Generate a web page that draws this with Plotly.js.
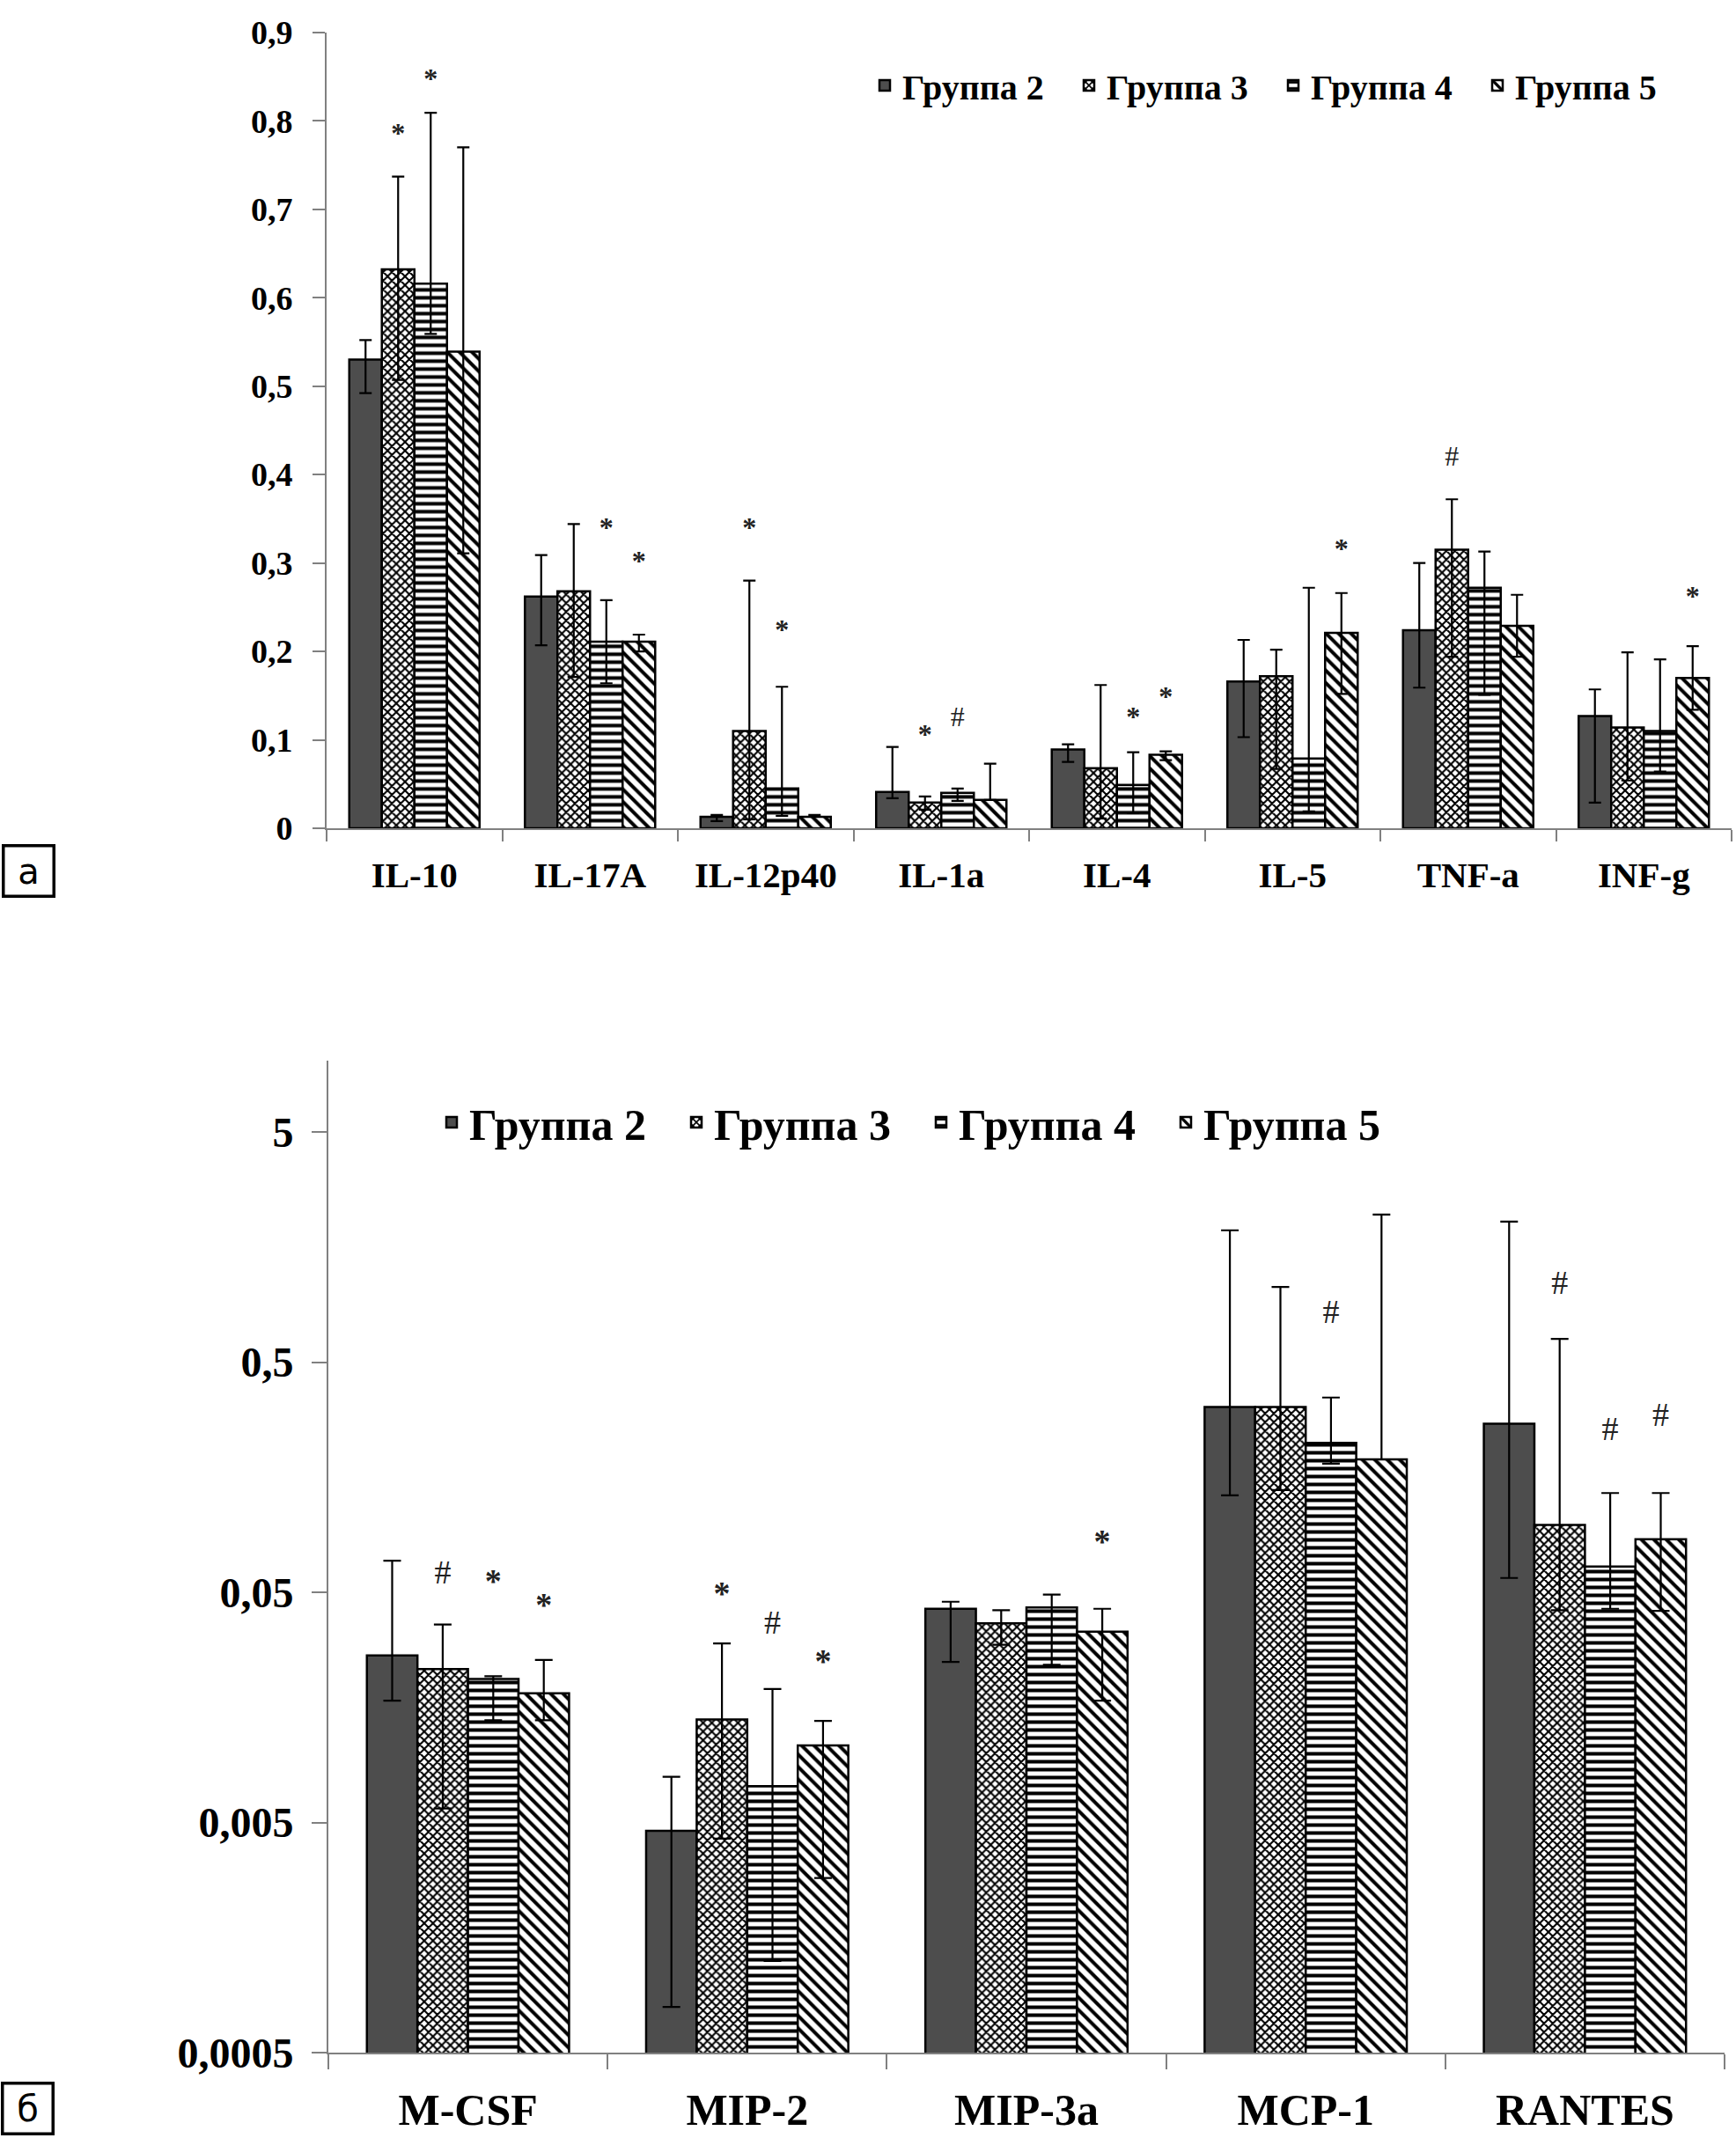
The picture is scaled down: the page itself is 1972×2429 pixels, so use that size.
<!DOCTYPE html>
<html>
<head>
<meta charset="utf-8">
<script src="https://cdn.plot.ly/plotly-3.0.1.min.js"></script>
<style>html,body{margin:0;padding:0;background:#fff}#chart{width:1972px;height:2429px}</style>
</head>
<body>
<div id="chart"></div>
<script>
// ---------- data ----------
const groupNames = ['Группа 2', 'Группа 3', 'Группа 4', 'Группа 5'];

// Chart а (linear scale)
const catsA = ['IL-10', 'IL-17A', 'IL-12p40', 'IL-1a', 'IL-4', 'IL-5', 'TNF-a', 'INF-g'];
const a2 = [0.530, 0.262, 0.013, 0.041, 0.089, 0.166, 0.224, 0.127];
const a2hi = [0.552, 0.309, 0.015, 0.092, 0.095, 0.213, 0.300, 0.157];
const a2lo = [0.492, 0.207, 0.008, 0.034, 0.075, 0.103, 0.159, 0.029];
const a3 = [0.632, 0.268, 0.110, 0.029, 0.068, 0.172, 0.315, 0.114];
const a3hi = [0.737, 0.344, 0.280, 0.036, 0.162, 0.202, 0.372, 0.199];
const a3lo = [0.507, 0.171, 0.010, 0.021, 0.011, 0.067, 0.194, 0.054];
const a4 = [0.616, 0.211, 0.045, 0.040, 0.049, 0.079, 0.272, 0.110];
const a4hi = [0.809, 0.258, 0.160, 0.045, 0.086, 0.272, 0.313, 0.191];
const a4lo = [0.559, 0.164, 0.014, 0.031, 0.017, 0.019, 0.151, 0.064];
const a5 = [0.539, 0.211, 0.013, 0.032, 0.083, 0.221, 0.229, 0.170];
const a5hi = [0.770, 0.219, 0.015, 0.073, 0.087, 0.266, 0.264, 0.206];
const a5lo = [0.311, 0.200, 0.013, 0.032, 0.077, 0.152, 0.194, 0.134];
const aTickVals = [0, 0.1, 0.2, 0.3, 0.4, 0.5, 0.6, 0.7, 0.8, 0.9];
const aTickText = ['0', '0,1', '0,2', '0,3', '0,4', '0,5', '0,6', '0,7', '0,8', '0,9'];
// significance marks, chart а
const aMarkCat = ['IL-10', 'IL-10', 'IL-17A', 'IL-17A', 'IL-12p40', 'IL-12p40', 'IL-1a', 'IL-1a', 'IL-4', 'IL-4', 'IL-5', 'TNF-a', 'INF-g'];
const aMarkGrp = [1, 2, 2, 3, 1, 2, 1, 2, 2, 3, 3, 1, 3];
const aMarkSym = ['*', '*', '*', '*', '*', '*', '*', '#', '*', '*', '*', '#', '*'];
const aMarkY = [0.783, 0.845, 0.337, 0.300, 0.337, 0.222, 0.104, 0.123, 0.123, 0.146, 0.314, 0.418, 0.260];

// Chart б (log scale)
const catsB = ['M-CSF', 'MIP-2', 'MIP-3a', 'MCP-1', 'RANTES'];
const b2 = [0.0266, 0.0046, 0.0424, 0.319, 0.270];
const b2hi = [0.0686, 0.0079, 0.0455, 1.87, 2.04];
const b2lo = [0.0169, 0.00079, 0.0249, 0.132, 0.0577];
const b3 = [0.0232, 0.0140, 0.0367, 0.319, 0.0982];
const b3hi = [0.0362, 0.0300, 0.0418, 1.06, 0.631];
const b3lo = [0.00575, 0.00425, 0.0296, 0.139, 0.0418];
const b4 = [0.0210, 0.00719, 0.0430, 0.223, 0.0647];
const b4hi = [0.0216, 0.0190, 0.0489, 0.351, 0.135];
const b4lo = [0.0139, 0.00125, 0.0242, 0.181, 0.0424];
const b5 = [0.0182, 0.0108, 0.0337, 0.189, 0.0851];
const b5hi = [0.0254, 0.0138, 0.0424, 2.19, 0.135];
const b5lo = [0.0139, 0.00287, 0.0169, 0.189, 0.0415];
const bTickVals = [0.0005, 0.005, 0.05, 0.5, 5];
const bTickText = ['0,0005', '0,005', '0,05', '0,5', '5'];
// significance marks, chart б
const bMarkCat = ['M-CSF', 'M-CSF', 'M-CSF', 'MIP-2', 'MIP-2', 'MIP-2', 'MIP-3a', 'MCP-1', 'RANTES', 'RANTES', 'RANTES'];
const bMarkGrp = [1, 2, 3, 1, 2, 3, 3, 2, 1, 2, 3];
const bMarkSym = ['#', '*', '*', '*', '#', '*', '*', '#', '#', '#', '#'];
const bMarkY = [0.0594, 0.0545, 0.0430, 0.0482, 0.0359, 0.0244, 0.0809, 0.805, 1.075, 0.250, 0.288];

// ---------- styling / layout helpers ----------
const W = 1972, H = 2429;
const px = v => v / W;
const py = v => 1 - v / H;
const SERIF = 'Liberation Serif';
const AXC = '#808080';

const fills = [
  {color: '#4d4d4d'},
  {color: '#ffffff', pattern: {shape: 'x', fgcolor: '#000', bgcolor: '#fff', size: 7, solidity: 0.5, fillmode: 'replace'}},
  {color: '#ffffff', pattern: {shape: '-', fgcolor: '#000', bgcolor: '#fff', size: 9, solidity: 0.45, fillmode: 'replace'}},
  {color: '#ffffff', pattern: {shape: '\\', fgcolor: '#000', bgcolor: '#fff', size: 10, solidity: 0.4, fillmode: 'replace'}}
];

function barTraces(cats, series, xa, ya, legendId, groupW, capW) {
  const idx = cats.map((c, i) => i);
  const bw = groupW / series.length;
  return series.map((s, k) => ({
    type: 'bar',
    name: groupNames[k],
    x: idx,
    y: s.v,
    width: bw,
    offset: -groupW / 2 + k * bw,
    xaxis: xa, yaxis: ya,
    legend: legendId,
    showlegend: true,
    marker: Object.assign({line: {color: '#000', width: 2.5}}, fills[k]),
    error_y: {
      type: 'data', symmetric: false,
      array: s.v.map((v, i) => s.hi[i] - v),
      arrayminus: s.v.map((v, i) => v - s.lo[i]),
      color: '#000', thickness: 2.2, width: capW
    }
  }));
}

function markTraces(cats, mCat, mGrp, mSym, mY, xa, ya, groupW, nG, size) {
  const bw = groupW / nG;
  const xs = mCat.map((c, i) => cats.indexOf(c) - groupW / 2 + (mGrp[i] + 0.5) * bw);
  const out = [];
  [['*', 'bold'], ['#', 'normal']].forEach(([sym, wt]) => {
    const sel = mSym.map((s, i) => s === sym ? i : -1).filter(i => i >= 0);
    out.push({
      type: 'scatter', mode: 'text', showlegend: false,
      x: sel.map(i => xs[i]), y: sel.map(i => mY[i]),
      text: sel.map(() => sym),
      textposition: 'middle center',
      textfont: {family: SERIF, size: size, color: '#222', weight: wt},
      xaxis: xa, yaxis: ya, hoverinfo: 'skip'
    });
  });
  return out;
}

const gA = 0.742, gB = 0.724;
const seriesA = [{v: a2, hi: a2hi, lo: a2lo}, {v: a3, hi: a3hi, lo: a3lo}, {v: a4, hi: a4hi, lo: a4lo}, {v: a5, hi: a5hi, lo: a5lo}];
const seriesB = [{v: b2, hi: b2hi, lo: b2lo}, {v: b3, hi: b3hi, lo: b3lo}, {v: b4, hi: b4hi, lo: b4lo}, {v: b5, hi: b5hi, lo: b5lo}];

const data = [].concat(
  barTraces(catsA, seriesA, 'x', 'y', 'legend', gA, 7),
  markTraces(catsA, aMarkCat, aMarkGrp, aMarkSym, aMarkY, 'x', 'y', gA, 4, 32),
  barTraces(catsB, seriesB, 'x2', 'y2', 'legend2', gB, 10),
  markTraces(catsB, bMarkCat, bMarkGrp, bMarkSym, bMarkY, 'x2', 'y2', gB, 4, 38)
);

function catAxis(cats, dom, anchor, fsize, standoff, ticklen) {
  return {
    domain: dom, anchor: anchor, type: 'linear',
    range: [-0.5, cats.length - 0.5],
    tickmode: 'array', tickvals: cats.map((c, i) => i), ticktext: cats,
    ticks: '', showgrid: false, zeroline: false,
    showline: true, linecolor: AXC, linewidth: 2,
    ticklabelstandoff: standoff,
    tickfont: {family: SERIF, size: fsize, color: '#000', weight: 'bold'},
    minor: {tickmode: 'linear', tick0: -0.5, dtick: 1, ticks: 'outside', ticklen: ticklen, tickwidth: 2, tickcolor: AXC, showgrid: false},
    fixedrange: true
  };
}

const boxLabel = (t, cx, cy) => ({
  text: t, xref: 'paper', yref: 'paper', x: px(cx), y: py(cy), xanchor: 'center', yanchor: 'middle',
  showarrow: false, width: 50, height: 50, borderpad: 2, bordercolor: '#000', borderwidth: 3.5, bgcolor: '#fff',
  font: {family: 'DejaVu Sans', size: 40, color: '#000'}
});

const layout = {
  width: W, height: H,
  margin: {l: 0, r: 0, t: 0, b: 0},
  paper_bgcolor: '#fff', plot_bgcolor: 'rgba(0,0,0,0)',
  barmode: 'overlay',
  showlegend: true,
  xaxis: catAxis(catsA, [px(371), px(1967)], 'y', 41, 16, 13),
  yaxis: {
    domain: [py(941), py(36.8)], anchor: 'x', range: [0, 0.9],
    tickmode: 'array', tickvals: aTickVals, ticktext: aTickText,
    ticks: 'outside', ticklen: 14, tickwidth: 2, tickcolor: AXC,
    showline: true, linecolor: AXC, linewidth: 2,
    showgrid: false, zeroline: false, ticklabelstandoff: 15,
    tickfont: {family: SERIF, size: 38, color: '#000', weight: 'bold'},
    fixedrange: true
  },
  xaxis2: catAxis(catsB, [px(373), px(1959)], 'y2', 50, 20, 17),
  yaxis2: {
    domain: [py(2332), py(1205)], anchor: 'x2', type: 'log',
    range: [Math.log10(0.0005), Math.log10(5) + 0.31],
    tickmode: 'array', tickvals: bTickVals, ticktext: bTickText,
    ticks: 'outside', ticklen: 17, tickwidth: 2, tickcolor: AXC,
    showline: true, linecolor: AXC, linewidth: 2,
    showgrid: false, zeroline: false, ticklabelstandoff: 11,
    tickfont: {family: SERIF, size: 48, color: '#000', weight: 'bold'},
    fixedrange: true
  },
  legend: {
    orientation: 'h', x: px(985), xanchor: 'left', y: py(97), yanchor: 'middle',
    font: {family: SERIF, size: 40, color: '#000', weight: 'bold'},
    bgcolor: 'rgba(0,0,0,0)', borderwidth: 0, entrywidth: 187, traceorder: 'normal'
  },
  legend2: {
    orientation: 'h', x: px(493), xanchor: 'left', y: py(1275), yanchor: 'middle',
    font: {family: SERIF, size: 50, color: '#000', weight: 'bold'},
    bgcolor: 'rgba(0,0,0,0)', borderwidth: 0, entrywidth: 233, traceorder: 'normal'
  },
  annotations: [boxLabel('а', 32, 990), boxLabel('б', 31, 2395)]
};

Plotly.newPlot('chart', data, layout, {staticPlot: true, displayModeBar: false});
</script>
</body>
</html>
